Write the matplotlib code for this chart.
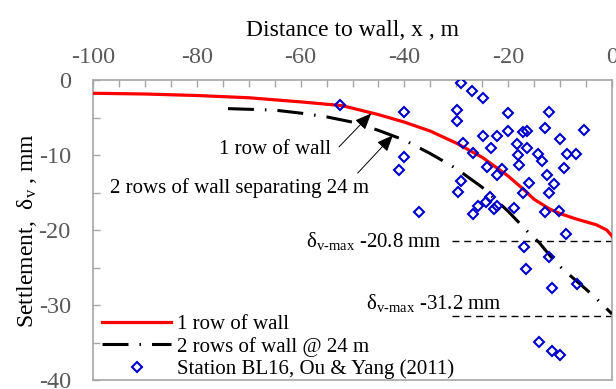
import matplotlib
matplotlib.use("Agg")
import matplotlib.pyplot as plt

# ---- data ----
red_x = [-100, -90, -80, -70, -60, -52, -45, -40, -35, -30, -25, -20, -17, -15, -12, -10, -7, -5, -3, -1, 0]
red_y = [-1.75, -1.85, -2.05, -2.35, -2.9, -3.4, -4.6, -5.6, -6.8, -8.4, -10.3, -12.8, -14.6, -15.9, -17.2, -17.8, -18.5, -18.9, -19.3, -20.0, -20.8]

blk_x = [-74, -65, -60, -55, -50, -45, -40, -35, -30, -25, -20, -16, -14, -11, -9.5, -7.5, -4, -2, 0]
blk_y = [-3.8, -4.0, -4.4, -4.9, -5.6, -6.7, -8.0, -9.8, -11.8, -14.3, -17.5, -20.4, -21.7, -24.2, -25.2, -26.4, -28.5, -29.8, -31.2]

obs_x = [-52.4, -29.0, -27.0, -24.9, -40.0, -29.9, -29.9, -20.1, -12.1, -5.4, -13.0, -16.4, -17.1, -20.1,
         -22.2, -24.9, -10.0, -28.8, -23.3, -18.4, -16.4, -18.1, -14.2, -13.4, -8.7, -7.0, -26.8, -40.0,
         -41.0, -24.1, -21.1, -22.1, -17.9, -9.2, -12.6, -29.0, -29.7, -15.9, -11.1, -17.1, -12.1, -23.5,
         -24.3, -25.9, -26.8, -22.7, -22.1, -18.8, -13.0, -10.3, -37.1, -8.9, -17.0, -12.1, -16.6, -11.6,
         -6.8, -14.0, -11.5, -10.0]
obs_y = [-3.3, -0.4, -1.5, -2.4, -4.2, -4.0, -5.5, -4.4, -4.2, -6.6, -6.4, -6.8, -6.9, -6.8,
         -7.5, -7.5, -7.9, -8.4, -9.0, -8.5, -9.0, -10.0, -9.9, -10.8, -9.9, -9.8, -9.7, -10.2,
         -12.0, -11.6, -11.8, -12.6, -11.3, -11.7, -12.7, -13.5, -14.9, -13.7, -13.9, -15.0, -15.1, -15.6,
         -16.2, -16.8, -17.8, -17.2, -16.8, -17.1, -17.6, -17.4, -17.6, -20.5, -22.2, -23.6, -25.2, -27.7,
         -27.2, -34.9, -36.1, -36.7]

max1_label = r"$\mathregular{\delta_{\text{v-max}}}$ -20.8 mm"
max2_label = r"$\mathregular{\delta_{\text{v-max}}}$ -31.2 mm"
max1_y = -21.5
max2_y = -31.5

xticks = [-100, -80, -60, -40, -20, 0]
yticks = [0, -10, -20, -30, -40]

# ---- style ----
plt.rcParams['font.family'] = ['Liberation Serif', 'DejaVu Serif']
plt.rcParams['mathtext.fontset'] = 'custom'
plt.rcParams['mathtext.rm'] = 'Liberation Serif'
plt.rcParams['mathtext.it'] = 'Liberation Serif:italic'

fig = plt.figure(figsize=(6.16, 3.89), dpi=100)
ax = fig.add_axes([0.151, 0.0231, 0.9935 - 0.151, 0.794 - 0.0231])

ax.plot(red_x, red_y, color='#FF0000', lw=2.3, label='1 row of wall', zorder=3)
ax.plot(blk_x, blk_y, color='black', lw=2.2, dashes=(8.5, 3.6, 0.5, 3.6),
        label='2 rows of wall @ 24 m', zorder=3)
ax.plot(obs_x, obs_y, linestyle='none', marker='D', ms=5.6, mfc='none', mec='#0000CC',
        mew=1.5, label='Station BL16, Ou & Yang (2011)', zorder=4)

ax.plot([-30.8, 0], [max1_y, max1_y], color='black', lw=1.0, dashes=(5, 3.5), zorder=2)
ax.plot([-30.8, 0], [max2_y, max2_y], color='black', lw=1.0, dashes=(5, 3.5), zorder=2)
ax.text(-32.8, max1_y + 0.1, max1_label, ha='right', va='center', fontsize=15)
ax.text(-21.2, -29.7, max2_label, ha='right', va='center', fontsize=15)

arrow_style = dict(arrowstyle='-|>,head_length=1.0,head_width=0.42', color='black',
                   lw=0.7, shrinkA=0, shrinkB=0)
ax.text(-65.0, -9.3, '1 row of wall', ha='center', va='center', fontsize=15)
ax.annotate('', xy=(-46.4, -4.45), xytext=(-52.6, -8.9), arrowprops=arrow_style)
ax.text(-71.8, -14.4, '2 rows of wall separating 24 m', ha='center', va='center', fontsize=15)
ax.annotate('', xy=(-42.2, -7.35), xytext=(-49.0, -12.4), arrowprops=arrow_style)

ax.set_xlim(-100, 0)
ax.set_ylim(-40, 0)
ax.xaxis.tick_top()
ax.xaxis.set_label_position('top')
ax.set_xticks(xticks)
ax.set_xticklabels([str(v) for v in xticks])
ax.set_yticks(yticks)
ax.set_yticklabels([str(v) for v in yticks])
ax.set_xticks(list(range(-95, 0, 5)), minor=True)
ax.set_yticks([-5, -15, -25, -35], minor=True)
ax.tick_params(axis='both', which='both', direction='in', colors='#A6A6A6',
               labelcolor='#595959', labelsize=17.5, width=1.0)
ax.tick_params(axis='both', which='major', length=5)
ax.tick_params(axis='both', which='minor', length=5)
ax.tick_params(axis='x', which='both', top=True, bottom=False, pad=9)
ax.tick_params(axis='y', which='both', left=True, right=False, pad=16)
for s in ax.spines.values():
    s.set_color('#A6A6A6')
    s.set_linewidth(1.2)

ax.set_xlabel('Distance to wall, x , m', fontsize=17, labelpad=8)
ax.set_ylabel(r'Settlement,  $\mathregular{\delta_{v}}$ , mm', fontsize=17, labelpad=0)

leg = ax.legend(loc='lower left', bbox_to_anchor=(0.01, -0.01), frameon=False, fontsize=15,
                handlelength=3.3, handletextpad=0.3, labelspacing=0.12, borderpad=0.2,
                borderaxespad=0.0)

fig.savefig('out.png', dpi=100)
